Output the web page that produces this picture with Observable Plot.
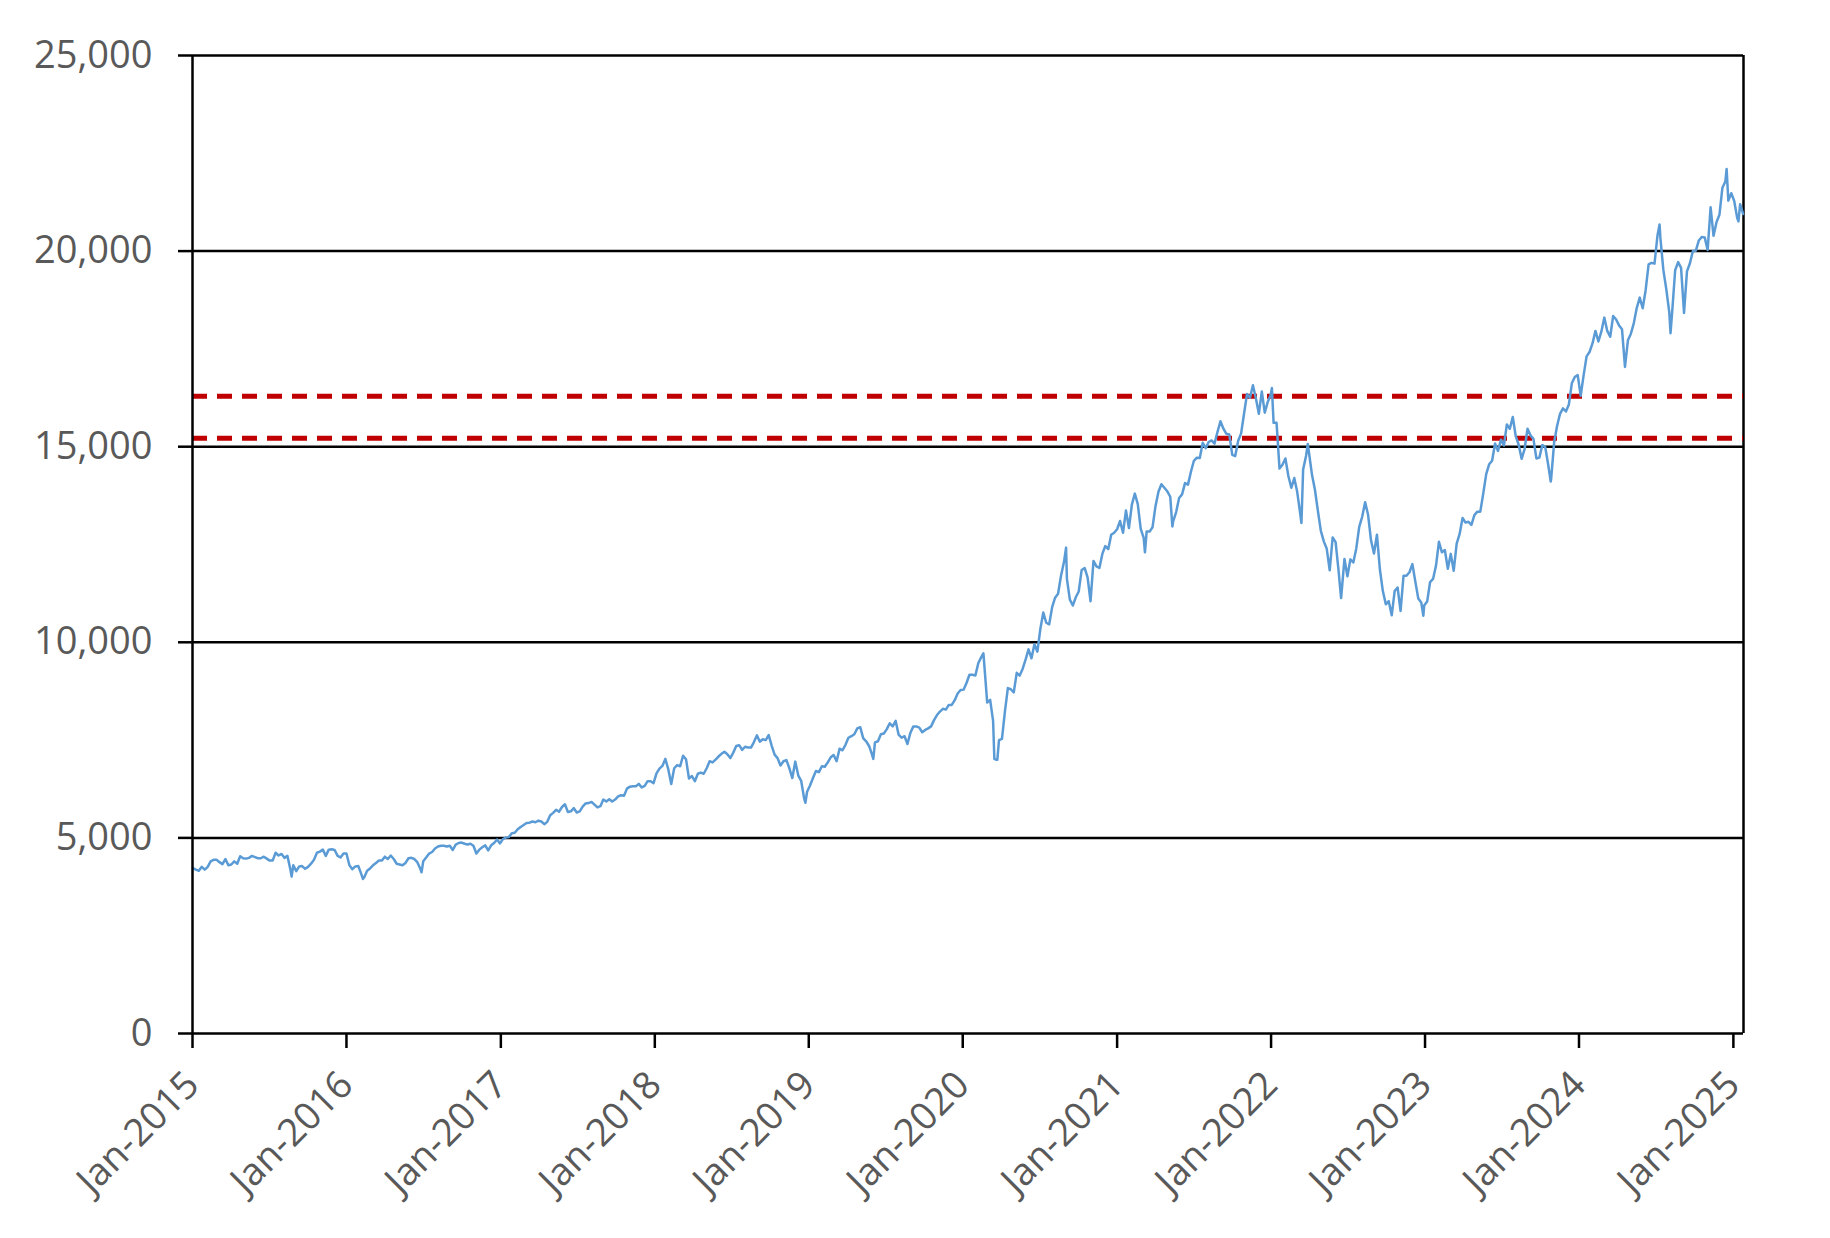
<!DOCTYPE html>
<html>
<head>
<meta charset="utf-8">
<script src="https://cdn.jsdelivr.net/npm/d3@7"></script>
<script src="https://cdn.jsdelivr.net/npm/@observablehq/plot@0.6"></script>
<style>
  html, body { margin: 0; padding: 0; background: #fff; }
  #chart svg { display: block; }
  [aria-label$="tick label"] text, [aria-label$="tick label"] { fill: #595959; }
</style>
</head>
<body>
<div id="chart"></div>
<script>
// Weekly (Friday) index levels, one array per year
const v2015 = [4230,4190,4160,4260,4190, 4260,4400,4440,4440, 4380,4330,4460,4300, 4320,4400,4340,4530, 4480,4470,4490,4540,4510, 4480,4480,4520,4470, 4420,4420,4620,4550,4590, 4490,4540,4200,4300, 4150,4270,4280,4210, 4260,4340,4440,4620,4650, 4700,4540,4700,4710, 4690,4540,4500,4600];
const v2016 = [4600,4300,4200,4270,4280, 4080,3990,4160,4220, 4300,4360,4420,4420, 4520,4460,4550,4460,4340, 4320,4300,4360,4480, 4490,4460,4380,4210, 4400,4500,4600,4640,4730, 4780,4800,4800,4780, 4800,4690,4830,4870,4880, 4850,4830,4850,4800, 4600,4700,4760,4810, 4680,4810,4870,4960,4860];
const v2017 = [4970,5010,5020,5120, 5130,5220,5280,5330, 5380,5390,5420,5400,5440, 5420,5350,5410,5580, 5640,5720,5670,5790, 5860,5660,5680,5760,5650, 5680,5800,5880,5890, 5920,5850,5780,5810, 5980,5930,5990,5930,5980, 6060,6090,6080,6260, 6310,6320,6320,6380, 6290,6330,6450,6450,6400];
const v2018 = [6650,6770,6840,7020, 6750,6380,6780,6860, 6830,7100,7010,6520,6580, 6450,6640,6670,6640, 6780,6960,6930,7000, 7080,7150,7200,7140,7040, 7180,7350,7370,7250, 7330,7310,7310,7450,7620, 7460,7520,7500,7630, 7360,7130,7040,6850, 6960,6990,6780,6530,6950, 6600,6460,6010,6180];
const v2019 = [6340,6530,6710,6680, 6830,6820,6930,7060, 7120,6960,7280,7240,7380, 7560,7600,7650,7800, 7830,7550,7470,7350,7130, 7440,7470,7650,7670, 7780,7930,7850,7990, 7640,7560,7600,7400,7690, 7850,7850,7820,7700, 7760,7800,7850,8010, 8140,8230,8300,8280,8400, 8400,8520,8690,8780];
const v2020 = [8790,8960,9170,9170,9150, 9470,9620,9450,8460, 8530,7990,7000,7500, 7530,8230,8830,8800, 8720,9220,9150,9320,9560, 9820,9590,9950,9760, 10340,10760,10500,10460,10900, 11140,11240,11700,12050, 11620,11090,10940,11150, 11300,11850,11900,11660,11050, 12080,11940,11900,12260, 12460,12380,12750,12800];
const v2021 = [12890,13100,12800,13370,12920, 13520,13800,13530,12900, 12670,12830,12830,12940, 13480,13850,14040,13950,13860, 13720,13100,13330,13690, 13780,14070,14030,14360, 14640,14720,14710,15100,14960, 15120,15160,15080,15380, 15650,15460,15330,15310, 14790,14760,15150,15340,15850, 16350,16250,16570,16240, 15840,16410,15870,16140,16320];
const v2022 = [15610,15610,14440,14540, 14700,14250,13950,14200, 13840,13300,14420,14770, 14840,14280,13900,13360,12850, 12580,12390,11840,12680, 12560,11830,11250,12130, 11690,12120,12040,12400,12950, 13210,13580,13260,12600, 12270,12750,11860,11310,10970, 11050,10690,11310,11400, 10800,11700,11700,11790, 12000,11550,11120,11020,10940];
const v2023 = [11040,11540,11620,11960, 12570,12300,12360,11880, 12260,11830,12520,12770,13180, 13060,13080,13000,13250, 13340,13340,13800,14300, 14550,14640,15080,14890,15180, 15030,15570,15460,15760, 15270,15050,14690,14940, 15460,15290,15200,14700,14720, 15040,14990,14540,14180, 15100,15530,15840,15980, 15900,16080,16620,16780,16830];
const v2024 = [16300,16830,17310,17420, 17640,17960,17690,17940, 18300,17960,17810,18340,18250, 18100,18000,17040,17720, 17890,18160,18550,18810,18540, 19000,19660,19700,19680, 20390,20330,19520,19020, 18440,18460,19510,19720,19570, 18420,19480,19690,20000, 20010,20270,20360,20350, 20030,21120,20390,20740,20930, 21620,21780,21290,21480];
const v2025 = [21280,20850,21200,20950];
const yearValues = [[2015,v2015],[2016,v2016],[2017,v2017],[2018,v2018],[2019,v2019],[2020,v2020],[2021,v2021],[2022,v2022],[2023,v2023],[2024,v2024],[2025,v2025]];

// Intra-week highs/lows visible in the chart
const extraDates = ["2015-08-24","2016-02-09","2016-06-27","2018-12-24","2019-06-03","2020-02-19","2020-03-16","2020-03-23","2020-09-02","2021-03-08","2021-05-12","2022-01-03","2022-03-14","2022-03-29","2022-06-16","2022-12-28","2023-10-26","2024-07-10","2024-08-05","2024-12-16","2025-01-13"];
const extraValues = [4010,3950,4120,5900,7020,9720,7020,6995,12420,12300,12960,16500,13050,15070,11130,10680,14110,20680,17900,22100,20760];

// Reference levels (red dashed lines)
const refLevels = [16290, 15215];

// Axis ticks
const yTicks = [0, 5000, 10000, 15000, 20000, 25000];
const xTickYears = [2015,2016,2017,2018,2019,2020,2021,2022,2023,2024,2025];
const xStart = "2015-01-01";
const xEnd = "2025-01-25";

// Build table
const data = [];
for (const [yr, vals] of yearValues) {
  const fridays = d3.utcFriday.range(new Date(Date.UTC(yr, 0, 1)), new Date(Date.UTC(yr + 1, 0, 1)));
  vals.forEach((v, i) => data.push({date: fridays[i], value: v}));
}
extraDates.forEach((d, i) => data.push({date: new Date(d + "T00:00:00Z"), value: extraValues[i]}));
data.sort((a, b) => a.date - b.date);

const xDomain = [new Date(xStart + "T00:00:00Z"), new Date(xEnd + "T00:00:00Z")];
const xTicks = xTickYears.map(y => new Date(Date.UTC(y, 0, 1)));

const chart = Plot.plot({
  width: 1830,
  height: 1238,
  marginLeft: 192,
  marginRight: 87,
  marginTop: 55,
  marginBottom: 205,
  style: {fontFamily: "'Open Sans', 'Noto Sans', sans-serif", fontSize: "38px", color: "#000", background: "#fff", overflow: "visible"},
  x: {type: "utc", domain: xDomain},
  y: {domain: [0, 25000]},
  marks: [
    Plot.ruleY(yTicks, {stroke: "#000", strokeWidth: 2.5}),
    Plot.ruleX([xDomain[1]], {stroke: "#000", strokeWidth: 2.5}),
    Plot.ruleY(refLevels, {stroke: "#C00000", strokeWidth: 5, strokeDasharray: "15,10"}),
    Plot.lineY(data, {x: "date", y: "value", stroke: "#5B9BD5", strokeWidth: 2.5, curve: "linear"}),
    Plot.ruleX([xDomain[0]], {stroke: "#000", strokeWidth: 2.5}),
    Plot.axisY({ticks: yTicks, tickSize: 14, tickPadding: 26, tickFormat: d3.format(","), stroke: "#000", strokeWidth: 2.5, fill: "#595959", label: null}),
    Plot.axisX({ticks: xTicks, tickSize: 15, tickPadding: 30, tickRotate: -45, tickFormat: d3.utcFormat("%b-%Y"), stroke: "#000", strokeWidth: 2.5, fill: "#595959", label: null})
  ]
});
document.getElementById("chart").appendChild(chart);
</script>
</body>
</html>
